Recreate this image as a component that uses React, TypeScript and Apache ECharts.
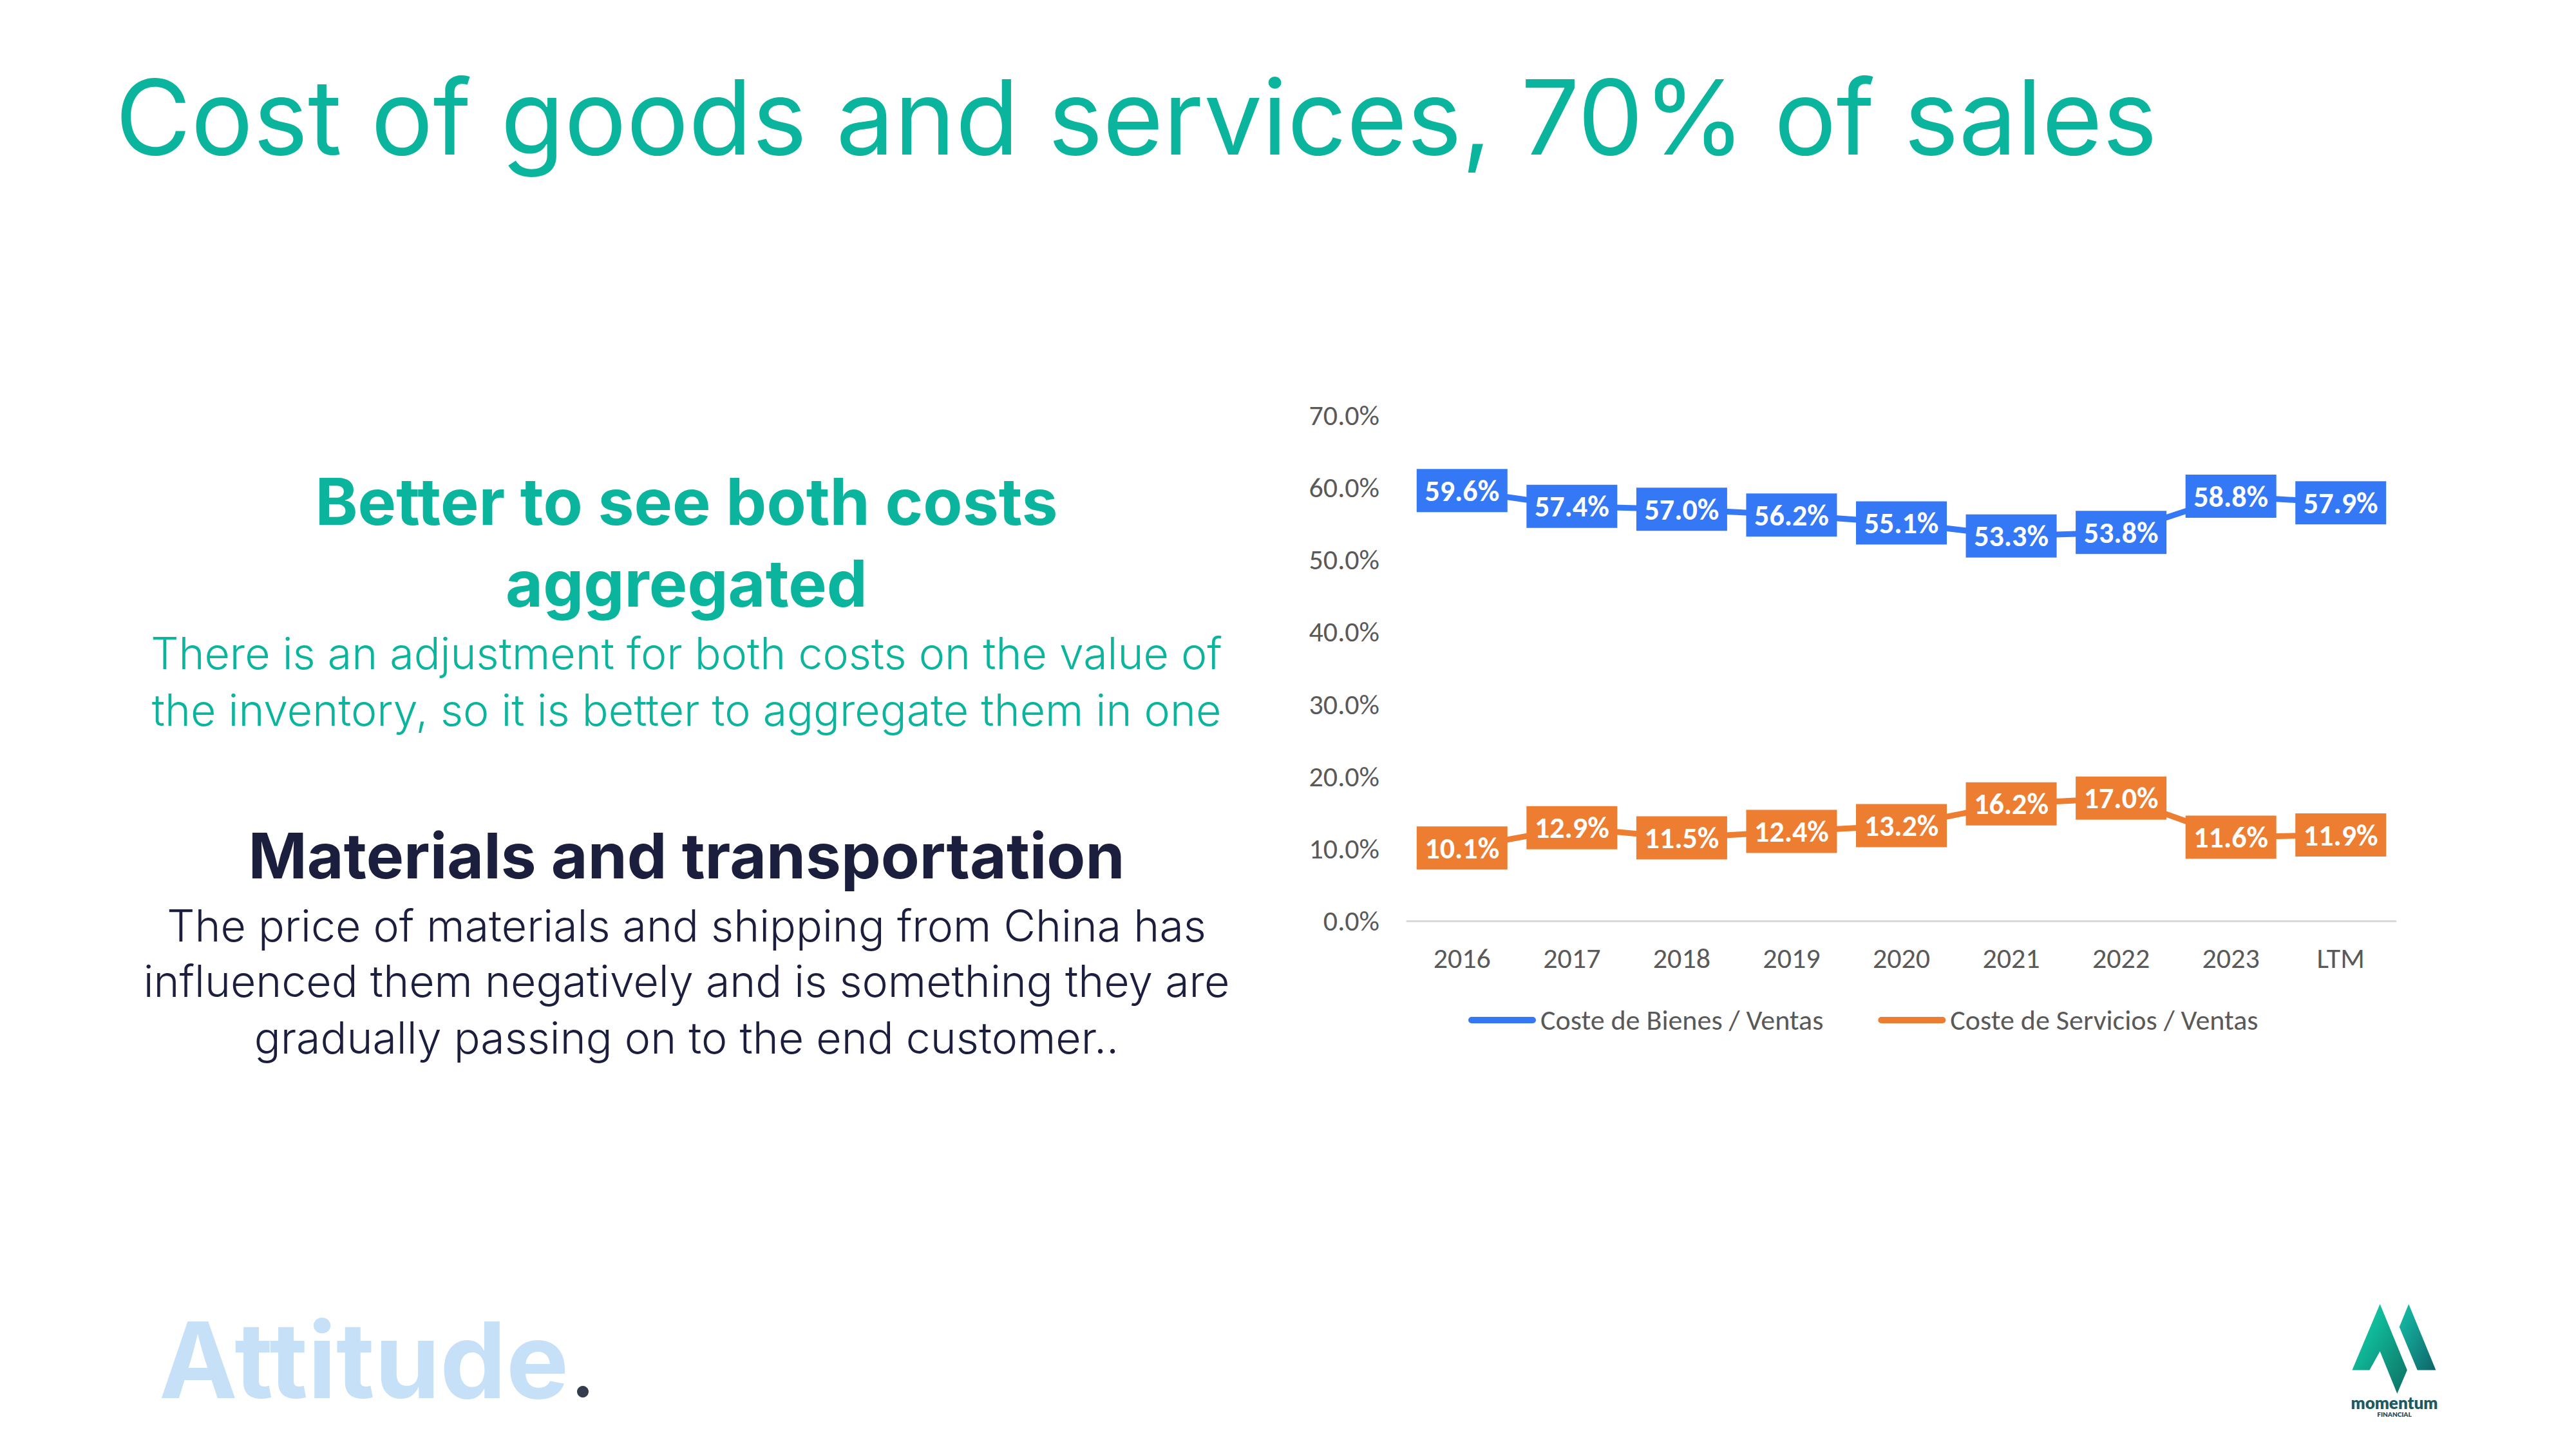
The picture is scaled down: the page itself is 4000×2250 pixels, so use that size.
import React, { useEffect, useRef } from "react";
import * as echarts from "echarts";

const categories = ["2016", "2017", "2018", "2019", "2020", "2021", "2022", "2023", "LTM"];
const bienes = [59.6, 57.4, 57.0, 56.2, 55.1, 53.3, 53.8, 58.8, 57.9];
const servicios = [10.1, 12.9, 11.5, 12.4, 13.2, 16.2, 17.0, 11.6, 11.9];
const seriesNames = ["Coste de Bienes / Ventas", "Coste de Servicios / Ventas"];

const titleText = "Cost of goods and services, 70% of sales";
const heading1 = ["Better to see both costs", "aggregated"];
const para1 = [
  "There is an adjustment for both costs on the value of",
  "the inventory, so it is better to aggregate them in one",
];
const heading2 = "Materials and transportation";
const para2 = [
  "The price of materials and shipping from China has",
  "influenced them negatively and is something they are",
  "gradually passing on to the end customer..",
];

const TEAL = "#0BB49D";
const NAVY = "#1C1E3E";
const BLUE = "#3478F6";
const ORANGE = "#ED7D31";
const GRAY = "#595959";
const SANS = "Inter, Lato, sans-serif";
const CHART_FONT = "Calibri, Carlito, Lato, sans-serif";

function txt(text: string, x: number, baseline: number, size: number, weight: any, fill: string, align = "center", family = SANS) {
  return {
    type: "text",
    z: 10,
    style: {
      text,
      x,
      y: baseline - size * 0.36,
      fontSize: size,
      fontWeight: weight,
      fontFamily: family,
      fill,
      align,
      verticalAlign: "middle",
    },
  };
}

export default function App() {
  const ref = useRef<HTMLDivElement>(null);
  useEffect(() => {
    if (!ref.current) return;
    const chart = echarts.init(ref.current, undefined, { renderer: "svg" });
    const cx = 1066;
    const graphics: any[] = [];
    graphics.push(txt(titleText, 179, 239, 161, 400, TEAL, "left"));
    heading1.forEach((t, i) => graphics.push(txt(t, cx, [814, 941][i], 100, 700, TEAL)));
    para1.forEach((t, i) => graphics.push(txt(t, cx, [1038, 1126][i], 68, 300, TEAL)));
    graphics.push(txt(heading2, cx, 1364, 98, 700, NAVY));
    para2.forEach((t, i) => graphics.push(txt(t, cx, [1461, 1547, 1635][i], 68, 300, NAVY)));
    // Attitude logo
    graphics.push(txt("Attitude", 247, 2170, 163, 700, "#C6E0F8", "left"));
    graphics.push({ type: "circle", shape: { cx: 905, cy: 2161, r: 9 }, style: { fill: "#333D4D" } });
    // momentum logo
    graphics.push({
      type: "polygon",
      shape: {
        points: [
          [3695.6, 2024.9], [3737.8, 2127.6], [3722.3, 2164.1], [3695.6, 2098.2], [3679.4, 2127.6], [3652.4, 2127.6],
        ],
      },
      style: {
        fill: new echarts.graphic.LinearGradient(0, 0, 1, 1, [
          { offset: 0, color: "#11DDB4" },
          { offset: 1, color: "#0E6F63" },
        ]),
      },
    });
    graphics.push({
      type: "polygon",
      shape: { points: [[3740.2, 2024.9], [3782.4, 2127.6], [3753.7, 2127.6], [3725.7, 2060.4]] },
      style: {
        fill: new echarts.graphic.LinearGradient(0, 0, 1, 1, [
          { offset: 0, color: "#15C2AA" },
          { offset: 1, color: "#0F6468" },
        ]),
      },
    });
    graphics.push(txt("momentum", 3718, 2187, 26, 800, "#1F5A62", "center", "Lato, sans-serif"));
    graphics.push(txt("FINANCIAL", 3718, 2200, 10, 800, "#2B4D55", "center", "Lato, sans-serif"));

    const labelCfg = {
      show: true,
      position: "inside",
      color: "#FFFFFF",
      fontWeight: "bold",
      fontSize: 46,
      fontFamily: CHART_FONT,
      formatter: (p: any) => Number(p.value).toFixed(1) + "%",
    };

    chart.setOption({
      animation: false,
      backgroundColor: "#FFFFFF",
      graphic: graphics,
      grid: { left: 2185, right: 280, top: 645, bottom: 820, containLabel: false },
      legend: {
        left: 2275,
        top: 1557,
        itemWidth: 105,
        itemHeight: 10,
        itemGap: 85,
        icon: "path://M5 0H100A5 5 0 0 1 100 10H5A5 5 0 0 1 5 0Z",
        textStyle: { color: GRAY, fontSize: 44, fontFamily: CHART_FONT, padding: [0, 0, 0, 2] },
        data: seriesNames,
      },
      xAxis: {
        type: "category",
        data: categories,
        boundaryGap: true,
        axisLine: { show: true, lineStyle: { color: "#D9D9D9", width: 3 } },
        axisTick: { show: false },
        axisLabel: { color: GRAY, fontSize: 44, fontFamily: CHART_FONT, margin: 36 },
        splitLine: { show: false },
      },
      yAxis: {
        type: "value",
        min: 0,
        max: 70,
        interval: 10,
        axisLine: { show: false },
        axisTick: { show: false },
        splitLine: { show: false },
        axisLabel: {
          color: GRAY,
          fontSize: 44,
          fontFamily: CHART_FONT,
          margin: 43,
          formatter: (v: number) => v.toFixed(1) + "%",
        },
      },
      series: [
        {
          name: seriesNames[0],
          type: "line",
          data: bienes,
          color: BLUE,
          symbol: "rect",
          symbolSize: [141, 67],
          showSymbol: true,
          lineStyle: { color: BLUE, width: 9 },
          itemStyle: { color: BLUE },
          label: labelCfg,
        },
        {
          name: seriesNames[1],
          type: "line",
          data: servicios,
          color: ORANGE,
          symbol: "rect",
          symbolSize: [141, 67],
          showSymbol: true,
          lineStyle: { color: ORANGE, width: 9 },
          itemStyle: { color: ORANGE },
          label: labelCfg,
        },
      ],
    });
    return () => chart.dispose();
  }, []);
  return (
    <div
      ref={ref}
      style={{ position: "fixed", left: 0, top: 0, width: "4000px", height: "2250px", background: "#fff" }}
    />
  );
}
